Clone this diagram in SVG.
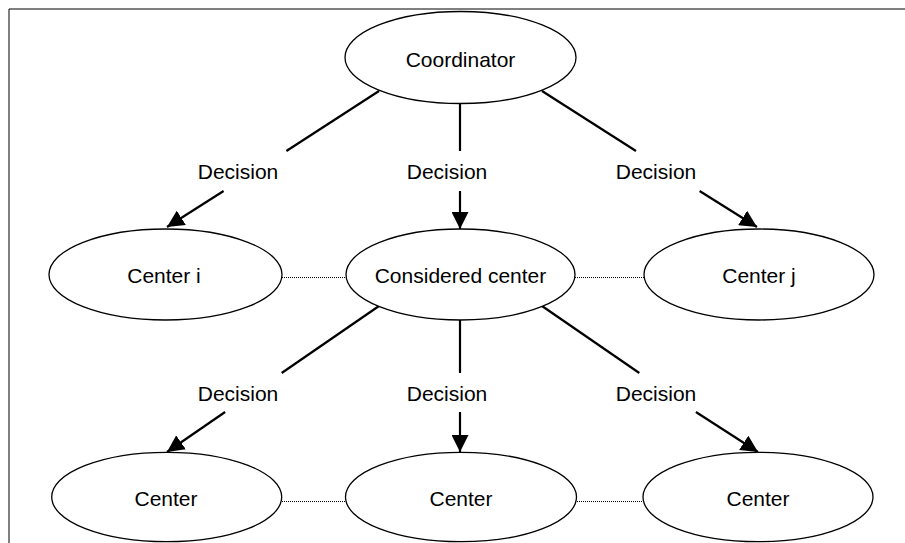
<svg xmlns="http://www.w3.org/2000/svg" width="905" height="543" viewBox="0 0 905 543">
  <style>
    .node ellipse { fill: #ffffff; stroke: #000000; stroke-width: 1.3; }
    text { font-family: "Liberation Sans", Arial, sans-serif; font-size: 21px; fill: #000000; text-anchor: middle; }
    .edge { stroke: #000000; stroke-width: 2.2; fill: none; }
    .dot { stroke: #000000; stroke-width: 1; stroke-dasharray: 1 1; fill: none; }
  </style>
  <defs>
    <marker id="arrow" markerUnits="userSpaceOnUse" viewBox="0 0 16 16" refX="16" refY="8" markerWidth="17" markerHeight="17" orient="auto">
      <path d="M0,0 L16,8 L0,16 z" fill="#000000"/>
    </marker>
  </defs>
  <rect x="0" y="0" width="905" height="543" fill="#ffffff"/>
  <path d="M9,543 L9,9 L905,9" fill="none" stroke="#000000" stroke-width="1"/>

  <g id="connectors">
    <line class="edge" x1="379" y1="91" x2="286.4" y2="151"/>
    <line class="edge" x1="223.6" y1="191" x2="167" y2="227" marker-end="url(#arrow)"/>
    <line class="edge" x1="460" y1="103" x2="460" y2="151"/>
    <line class="edge" x1="460" y1="191" x2="460" y2="229" marker-end="url(#arrow)"/>
    <line class="edge" x1="542" y1="91" x2="636" y2="151"/>
    <line class="edge" x1="699.6" y1="191" x2="757" y2="227" marker-end="url(#arrow)"/>
    <line class="edge" x1="379" y1="306" x2="281.7" y2="373"/>
    <line class="edge" x1="225.1" y1="412" x2="167" y2="452" marker-end="url(#arrow)"/>
    <line class="edge" x1="460" y1="320" x2="460" y2="373"/>
    <line class="edge" x1="460" y1="412" x2="460" y2="452" marker-end="url(#arrow)"/>
    <line class="edge" x1="542" y1="306" x2="639.3" y2="373"/>
    <line class="edge" x1="695.9" y1="412" x2="758" y2="452" marker-end="url(#arrow)"/>
    <line class="dot" x1="282" y1="277.5" x2="346" y2="277.5"/>
    <line class="dot" x1="575" y1="277.5" x2="644" y2="277.5"/>
    <line class="dot" x1="282" y1="501.5" x2="346" y2="501.5"/>
    <line class="dot" x1="577" y1="501.5" x2="643" y2="501.5"/>
    <text x="238" y="179">Decision</text>
    <text x="447" y="179">Decision</text>
    <text x="656" y="179">Decision</text>
    <text x="238" y="401">Decision</text>
    <text x="447" y="401">Decision</text>
    <text x="656" y="401">Decision</text>
  </g>

  <g id="coordinator" class="node">
    <ellipse cx="460.5" cy="57.5" rx="115.5" ry="46"/>
    <text x="460.5" y="66.5">Coordinator</text>
  </g>
  <g id="center-i" class="node">
    <ellipse cx="165.5" cy="274.5" rx="116.5" ry="45.5"/>
    <text x="164" y="282.5">Center i</text>
  </g>
  <g id="considered-center" class="node">
    <ellipse cx="460.5" cy="274.5" rx="114.5" ry="45.5"/>
    <text x="460.5" y="282.5">Considered center</text>
  </g>
  <g id="center-j" class="node">
    <ellipse cx="759" cy="274.5" rx="115" ry="45.5"/>
    <text x="759" y="282.5">Center j</text>
  </g>
  <g id="center-1" class="node">
    <ellipse cx="166.7" cy="497" rx="115" ry="44.7"/>
    <text x="166" y="506">Center</text>
  </g>
  <g id="center-2" class="node">
    <ellipse cx="461" cy="497" rx="115.5" ry="44.7"/>
    <text x="461" y="506">Center</text>
  </g>
  <g id="center-3" class="node">
    <ellipse cx="758" cy="497" rx="115" ry="44.7"/>
    <text x="758" y="506">Center</text>
  </g>
</svg>
